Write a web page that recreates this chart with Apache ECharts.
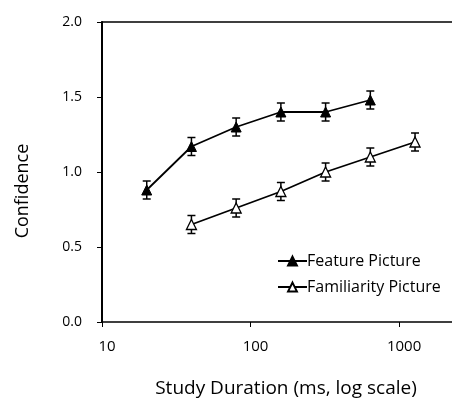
<!DOCTYPE html>
<html>
<head>
<meta charset="utf-8">
<script src="https://cdn.jsdelivr.net/npm/echarts@6/dist/echarts.min.js"></script>
<style>
  html, body { margin: 0; padding: 0; background: #fff; }
  #chart { width: 452px; height: 400px; }
</style>
</head>
<body>
<div id="chart"></div>
<script>
var durationsFeature = [20, 40, 80, 160, 320, 640];
var durationsFamiliar = [40, 80, 160, 320, 640, 1280];
var featureValues = [0.88, 1.17, 1.30, 1.40, 1.40, 1.48];
var familiarValues = [0.65, 0.76, 0.87, 1.00, 1.10, 1.20];
var featureErrors = [0.06, 0.06, 0.06, 0.06, 0.06, 0.06];
var familiarErrors = [0.06, 0.06, 0.06, 0.06, 0.06, 0.06];
var xTicks = [10, 100, 1000];
var yTicks = ['0.0', '0.5', '1.0', '1.5', '2.0'];

var fuente = '"Open Sans", sans-serif';

function pares(xs, ys) {
    var out = [];
    for (var i = 0; i < xs.length; i++) {
        out.push([xs[i], ys[i]]);
    }
    return out;
}

function barras(xs, ys, errs) {
    var out = [];
    for (var i = 0; i < xs.length; i++) {
        out.push([xs[i], ys[i] - errs[i], ys[i] + errs[i]]);
    }
    return out;
}

function dibujarError(params, api) {
    var bajo = api.coord([api.value(0), api.value(1)]);
    var alto = api.coord([api.value(0), api.value(2)]);
    var w = 4;
    var estilo = { stroke: '#000', lineWidth: 1.5 };
    return {
        type: 'group',
        children: [
            { type: 'line', shape: { x1: bajo[0], y1: bajo[1], x2: alto[0], y2: alto[1] }, style: estilo },
            { type: 'line', shape: { x1: bajo[0] - w, y1: bajo[1], x2: bajo[0] + w, y2: bajo[1] }, style: estilo },
            { type: 'line', shape: { x1: alto[0] - w, y1: alto[1], x2: alto[0] + w, y2: alto[1] }, style: estilo }
        ]
    };
}

// solo 10, 100, 1000 llevan etiqueta
function etiquetaX(v) {
    for (var i = 0; i < xTicks.length; i++) {
        if (Math.abs(v - xTicks[i]) < 1e-6) {
            return String(xTicks[i]);
        }
    }
    return '';
}

var chart = echarts.init(document.getElementById('chart'), null, { renderer: 'canvas' });

chart.setOption({
    backgroundColor: '#fff',
    animation: false,
    grid: { left: 102, top: 22, right: 0, bottom: 78, outerBoundsMode: 'none', containLabel: false },
    legend: {
        orient: 'vertical',
        left: 272,
        top: 248,
        itemWidth: 29,
        itemHeight: 11,
        itemGap: 10,
        textStyle: { fontFamily: fuente, fontSize: 16, color: '#000', padding: [0, 0, 0, -5] },
        data: ['Feature Picture', 'Familiarity Picture']
    },
    xAxis: [{
        type: 'log',
        logBase: 10,
        min: 10,
        max: 2270,
        name: 'Study Duration (ms, log scale)',
        nameLocation: 'middle',
        nameGap: 57,
        nameTextStyle: { fontFamily: fuente, fontSize: 19, color: '#000', padding: [0, 0, 0, 18] },
        axisLine: { lineStyle: { color: '#000', width: 1.5 } },
        axisTick: { show: true, length: 5, lineStyle: { color: '#000' } },
        axisLabel: {
            fontFamily: fuente, fontSize: 15, color: '#000', margin: 17,
            padding: [0, 0, 0, 10], showMaxLabel: false, formatter: etiquetaX
        },
        splitLine: { show: false },
        minorTick: { show: false }
    }, {
        type: 'log',
        logBase: 10,
        min: 10,
        max: 2270,
        position: 'top',
        axisLine: { show: true, lineStyle: { color: '#000', width: 1.5 } },
        axisTick: { show: false },
        axisLabel: { show: false },
        splitLine: { show: false }
    }],
    yAxis: {
        type: 'value',
        min: 0,
        max: 2,
        interval: 0.5,
        name: 'Confidence',
        nameLocation: 'middle',
        nameGap: 70,
        nameTextStyle: { fontFamily: fuente, fontSize: 18, color: '#000', padding: [0, 38, 0, 0] },
        axisLine: { show: true, lineStyle: { color: '#000', width: 2 } },
        axisTick: { show: true, length: 5, lineStyle: { color: '#000' } },
        axisLabel: {
            fontFamily: fuente, fontSize: 14, color: '#000', margin: 20,
            formatter: function(v) { return yTicks[Math.round(v / 0.5)]; }
        },
        splitLine: { show: false }
    },
    series: [{
        name: 'Feature Picture',
        type: 'line',
        data: pares(durationsFeature, featureValues),
        symbol: 'triangle',
        symbolSize: 10,
        itemStyle: { color: '#000', borderColor: '#000', borderWidth: 1 },
        lineStyle: { color: '#000', width: 1.8 },
        z: 3
    }, {
        name: 'Familiarity Picture',
        type: 'line',
        data: pares(durationsFamiliar, familiarValues),
        symbol: 'triangle',
        symbolSize: 10,
        itemStyle: { color: '#fff', borderColor: '#000', borderWidth: 1.3 },
        lineStyle: { color: '#000', width: 1.8 },
        z: 3
    }, {
        type: 'custom',
        renderItem: dibujarError,
        data: barras(durationsFeature, featureValues, featureErrors),
        encode: { x: 0, y: [1, 2] },
        z: 2
    }, {
        type: 'custom',
        renderItem: dibujarError,
        data: barras(durationsFamiliar, familiarValues, familiarErrors),
        encode: { x: 0, y: [1, 2] },
        z: 2
    }]
});
</script>
</body>
</html>
